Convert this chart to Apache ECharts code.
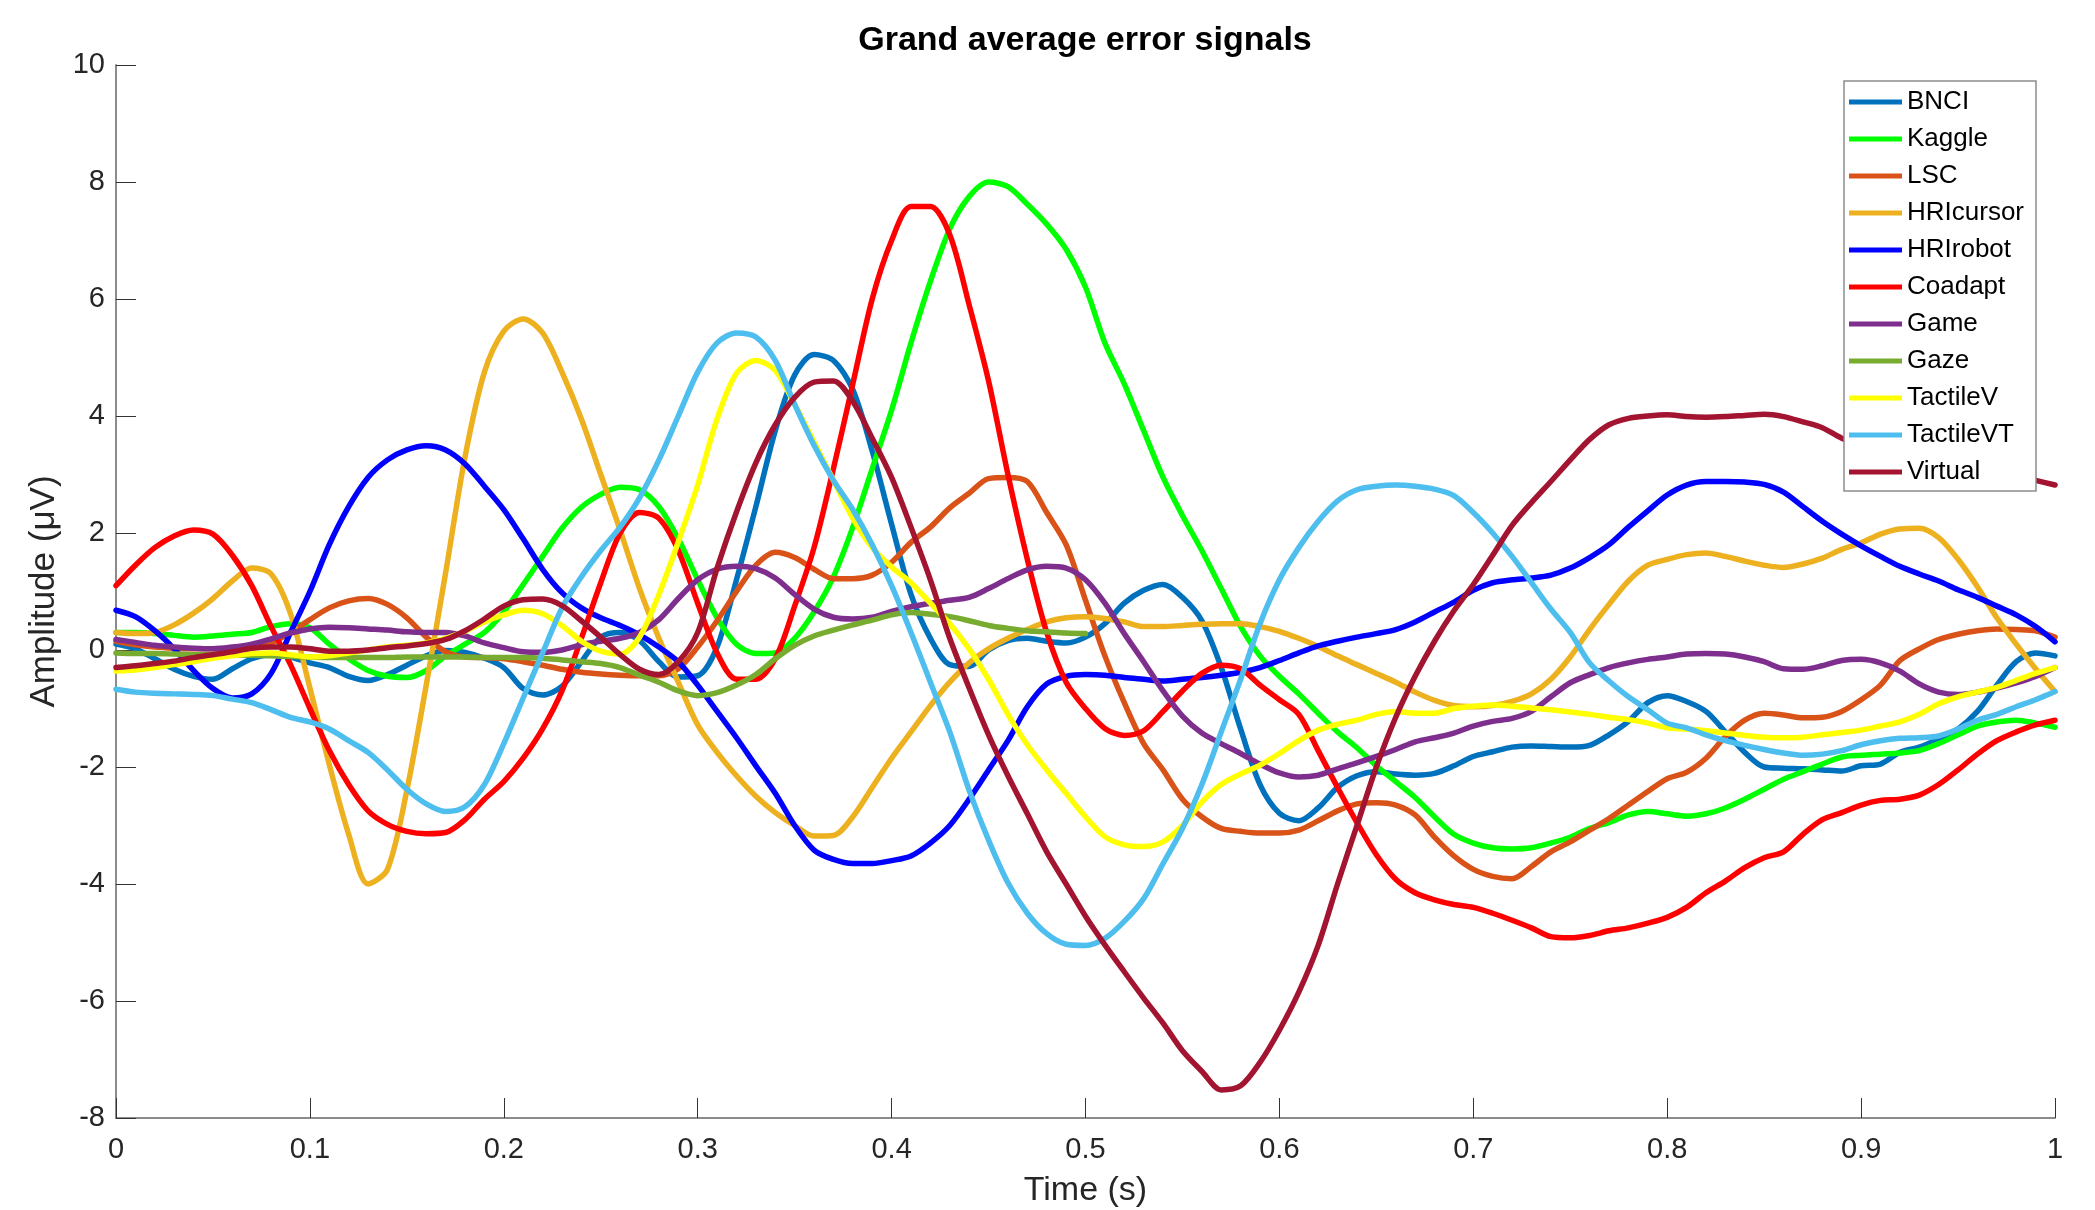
<!DOCTYPE html>
<html>
<head>
<meta charset="utf-8">
<title>Grand average error signals</title>
<script src="https://cdn.jsdelivr.net/npm/echarts@6.0.0/dist/echarts.min.js"></script>
<style>
  html, body { margin: 0; padding: 0; background: #fff; }
  #chart { width: 2095px; height: 1210px; }
</style>
</head>
<body>
<div id="chart"></div>
<script>
// sample times in seconds
const time = [
  0, 0.01, 0.02, 0.03, 0.04, 0.05, 0.06, 0.07, 0.08, 0.09,
  0.1, 0.11, 0.12, 0.13, 0.14, 0.15, 0.16, 0.17, 0.18, 0.19,
  0.2, 0.21, 0.22, 0.23, 0.24, 0.25, 0.26, 0.27, 0.28, 0.29,
  0.3, 0.31, 0.32, 0.33, 0.34, 0.35, 0.36, 0.37, 0.38, 0.39,
  0.4, 0.41, 0.42, 0.43, 0.44, 0.45, 0.46, 0.47, 0.48, 0.49,
  0.5, 0.51, 0.52, 0.53, 0.54, 0.55, 0.56, 0.57, 0.58, 0.59,
  0.6, 0.61, 0.62, 0.63, 0.64, 0.65, 0.66, 0.67, 0.68, 0.69,
  0.7, 0.71, 0.72, 0.73, 0.74, 0.75, 0.76, 0.77, 0.78, 0.79,
  0.8, 0.81, 0.82, 0.83, 0.84, 0.85, 0.86, 0.87, 0.88, 0.89,
  0.9, 0.91, 0.92, 0.93, 0.94, 0.95, 0.96, 0.97, 0.98, 0.99, 1
];

// amplitudes in µV
const bnci = [
  0.1, 0.02, -0.15, -0.33, -0.45, -0.5, -0.32, -0.15, -0.08, -0.12,
  -0.22, -0.3, -0.45, -0.52, -0.42, -0.26, -0.1, -0.01, -0.04, -0.14,
  -0.3, -0.66, -0.77, -0.62, -0.2, 0.22, 0.3, 0.16, -0.2, -0.46,
  -0.44, 0.05, 1.2, 2.45, 3.75, 4.7, 5.05, 4.95, 4.45, 3.4,
  2.15, 0.95, 0.2, -0.25, -0.28, 0.0, 0.16, 0.2, 0.15, 0.12,
  0.22, 0.45, 0.8, 1.02, 1.12, 0.9, 0.5, -0.3, -1.35, -2.3,
  -2.79, -2.92, -2.7, -2.35, -2.15, -2.08, -2.12, -2.14, -2.11, -1.98,
  -1.82, -1.74, -1.66, -1.64, -1.65, -1.66, -1.63, -1.45, -1.22, -0.9,
  -0.78, -0.88, -1.05, -1.4, -1.75, -2.0, -2.02, -2.03, -2.05, -2.07,
  -1.98, -1.95, -1.75, -1.66, -1.52, -1.35, -1.05, -0.6, -0.2, -0.05, -0.1
];
const kaggle = [
  0.3, 0.3, 0.28, 0.25, 0.22, 0.24, 0.27, 0.3, 0.4, 0.45,
  0.38, 0.1, -0.15, -0.35, -0.45, -0.47, -0.35, -0.1, 0.1, 0.3,
  0.65, 1.12, 1.6, 2.08, 2.44, 2.66, 2.78, 2.74, 2.45, 1.9,
  1.2, 0.55, 0.1, -0.06, -0.05, 0.2, 0.65, 1.25, 2.1, 3.1,
  4.1, 5.25, 6.3, 7.2, 7.75, 8.0, 7.92, 7.62, 7.28, 6.85,
  6.2, 5.25, 4.55, 3.75, 2.95, 2.3, 1.7, 1.05, 0.4, -0.1,
  -0.45, -0.75, -1.08, -1.4, -1.67, -1.98, -2.25, -2.52, -2.85, -3.15,
  -3.3, -3.38, -3.4, -3.38, -3.3, -3.2, -3.05, -2.95, -2.82, -2.76,
  -2.8, -2.84, -2.8, -2.7, -2.55, -2.38, -2.21, -2.08, -1.95, -1.83,
  -1.8, -1.78, -1.76, -1.72, -1.6, -1.45, -1.3, -1.23, -1.2, -1.25, -1.32
];
const lsc = [
  0.15, 0.09, 0.05, 0.03, 0.02, 0.02, 0.03, 0.05, 0.12, 0.3,
  0.52, 0.72, 0.84, 0.88, 0.78, 0.55, 0.22, -0.03, -0.12, -0.13,
  -0.15, -0.2, -0.26, -0.33, -0.38, -0.41, -0.43, -0.44, -0.44, -0.32,
  0.05, 0.5, 1.0, 1.45, 1.67, 1.58, 1.38, 1.22, 1.22, 1.28,
  1.5, 1.84, 2.1, 2.43, 2.68, 2.93, 2.95, 2.88, 2.35, 1.8,
  0.85, -0.1, -0.9, -1.6, -2.05, -2.55, -2.85, -3.05, -3.1, -3.13,
  -3.13, -3.08, -2.92, -2.75, -2.63, -2.61, -2.65, -2.82, -3.2, -3.52,
  -3.75, -3.87, -3.91, -3.7, -3.45, -3.28, -3.08, -2.88, -2.65, -2.42,
  -2.2, -2.09, -1.85, -1.48, -1.2, -1.08, -1.11, -1.16, -1.15, -1.05,
  -0.85, -0.6, -0.18, 0.02, 0.18, 0.27, 0.33, 0.36, 0.35, 0.33, 0.22
];
const hriCursor = [
  0.3, 0.28, 0.3, 0.43, 0.63, 0.88, 1.18, 1.4, 1.3, 0.62,
  -0.65, -1.96, -3.15, -4.0, -3.75, -2.4, -0.6, 1.32, 3.3, 4.75,
  5.45, 5.66, 5.42, 4.75, 3.95, 3.0, 2.05, 1.05, 0.2, -0.55,
  -1.28, -1.75, -2.15, -2.5, -2.78, -3.0, -3.18, -3.17, -2.85, -2.35,
  -1.85, -1.4, -0.95, -0.55, -0.22, 0.02, 0.2, 0.35, 0.48, 0.55,
  0.57, 0.54, 0.48, 0.4, 0.4, 0.42, 0.44, 0.45, 0.45, 0.4,
  0.32, 0.2, 0.06, -0.1, -0.25, -0.4, -0.55, -0.72, -0.86, -0.95,
  -0.97, -0.95, -0.88, -0.75, -0.5, -0.12, 0.35, 0.78, 1.18, 1.45,
  1.55, 1.63, 1.66, 1.6, 1.52, 1.45, 1.41, 1.47, 1.57, 1.72,
  1.83, 1.98, 2.07, 2.08, 1.92, 1.55, 1.08, 0.55, 0.1, -0.32, -0.71
];
const hriRobot = [
  0.68, 0.57, 0.33, 0.02, -0.35, -0.66, -0.82, -0.75, -0.4, 0.3,
  1.0, 1.8, 2.45, 2.95, 3.25, 3.42, 3.49, 3.42, 3.18, 2.8,
  2.4, 1.9, 1.38, 0.98, 0.72, 0.55, 0.42, 0.26, 0.05, -0.2,
  -0.6, -1.05, -1.5, -1.98, -2.45, -3.0, -3.42, -3.58, -3.65, -3.65,
  -3.6, -3.52, -3.3, -3.0, -2.55, -2.05, -1.55, -0.97, -0.58, -0.45,
  -0.42, -0.43, -0.47, -0.5, -0.53, -0.5, -0.47, -0.43, -0.38, -0.3,
  -0.18, -0.05, 0.07, 0.15, 0.22, 0.28, 0.35, 0.48, 0.65, 0.82,
  1.02, 1.15, 1.2, 1.23, 1.28, 1.4, 1.58, 1.8, 2.1, 2.38,
  2.65, 2.82, 2.88, 2.88, 2.87, 2.83, 2.7, 2.45, 2.2, 1.98,
  1.78, 1.6, 1.43, 1.3, 1.18, 1.03, 0.9, 0.75, 0.6, 0.4, 0.14
];
const coadapt = [
  1.1, 1.45, 1.75, 1.95, 2.05, 1.98, 1.62, 1.1, 0.4, -0.25,
  -1.0, -1.72, -2.3, -2.75, -2.98, -3.1, -3.14, -3.12, -2.9, -2.55,
  -2.25, -1.85, -1.35, -0.7, 0.2, 1.15, 2.0, 2.35, 2.25, 1.7,
  0.8, -0.05, -0.5, -0.5, -0.15, 0.75, 1.75, 3.1, 4.55, 6.0,
  7.0, 7.58, 7.58, 7.1, 5.9, 4.6, 3.0, 1.55, 0.3, -0.55,
  -1.0, -1.34, -1.46, -1.38, -1.05, -0.7, -0.4, -0.26, -0.32, -0.6,
  -0.85, -1.1, -1.72, -2.35, -2.95, -3.5, -3.92, -4.15, -4.27, -4.35,
  -4.4, -4.5, -4.62, -4.75, -4.9, -4.92, -4.88, -4.8, -4.75, -4.67,
  -4.57, -4.4, -4.15, -3.95, -3.72, -3.55, -3.45, -3.15, -2.9, -2.78,
  -2.65, -2.57, -2.55, -2.48, -2.3, -2.05, -1.78, -1.55, -1.4, -1.28, -1.2
];
const game = [
  0.18, 0.13, 0.08, 0.05, 0.03, 0.02, 0.05, 0.1, 0.19, 0.29,
  0.36, 0.39, 0.38, 0.36, 0.34, 0.31, 0.3, 0.3, 0.24, 0.12,
  0.04, -0.03, -0.04, 0.0, 0.09, 0.15, 0.2, 0.3, 0.52, 0.88,
  1.2, 1.38, 1.43, 1.39, 1.23, 0.95, 0.7, 0.56, 0.53, 0.56,
  0.66, 0.74, 0.8, 0.85, 0.9, 1.05, 1.22, 1.37, 1.43, 1.4,
  1.2, 0.8, 0.28, -0.2, -0.7, -1.13, -1.42, -1.6, -1.77, -1.95,
  -2.1, -2.17, -2.14, -2.03, -1.93, -1.82, -1.7, -1.57, -1.5, -1.42,
  -1.3, -1.22, -1.17, -1.05, -0.8, -0.56, -0.42, -0.3, -0.22, -0.16,
  -0.12, -0.07, -0.06, -0.07, -0.12, -0.2, -0.32, -0.33, -0.27, -0.18,
  -0.16, -0.22, -0.36, -0.58, -0.72, -0.76, -0.72, -0.65, -0.56, -0.45, -0.3
];
// Gaze stops at 0.5 s
const gaze = [
  -0.05, -0.06, -0.06, -0.07, -0.08, -0.08, -0.09, -0.09, -0.1, -0.11,
  -0.12, -0.13, -0.13, -0.13, -0.13, -0.12, -0.12, -0.12, -0.12, -0.13,
  -0.13, -0.13, -0.14, -0.17, -0.2, -0.23, -0.3, -0.43, -0.55, -0.7,
  -0.78, -0.73, -0.6, -0.42, -0.15, 0.08, 0.24, 0.34, 0.43, 0.51,
  0.6, 0.64, 0.61, 0.57, 0.5, 0.42, 0.37, 0.33, 0.31, 0.29, 0.28
];
const tactileV = [
  -0.36, -0.34, -0.3, -0.25, -0.2, -0.14, -0.1, -0.06, -0.05, -0.08,
  -0.12, -0.1, -0.05, 0.0, 0.05, 0.08, 0.12, 0.2, 0.32, 0.48,
  0.6, 0.68, 0.62, 0.42, 0.15, -0.02, -0.07, 0.22, 0.95, 1.85,
  2.82, 3.95, 4.73, 4.95, 4.78, 4.2, 3.55, 2.9, 2.25, 1.75,
  1.42, 1.15, 0.8, 0.45, 0.02, -0.5, -1.1, -1.62, -2.05, -2.45,
  -2.85, -3.19, -3.33, -3.36, -3.28, -3.0, -2.6, -2.3, -2.12, -1.97,
  -1.77, -1.55, -1.37, -1.27, -1.2, -1.1, -1.05, -1.08, -1.08, -1.0,
  -0.96, -0.94, -0.96, -0.99, -1.02, -1.06, -1.1, -1.15, -1.19, -1.25,
  -1.33, -1.35, -1.38, -1.42, -1.46, -1.49, -1.5, -1.49, -1.45, -1.41,
  -1.37, -1.3, -1.23, -1.1, -0.92, -0.8, -0.72, -0.64, -0.52, -0.4, -0.3
];
const tactileVT = [
  -0.67, -0.72, -0.74, -0.75, -0.76, -0.78, -0.84, -0.9, -1.02, -1.15,
  -1.23, -1.35, -1.55, -1.75, -2.05, -2.38, -2.63, -2.76, -2.68, -2.3,
  -1.6, -0.82, -0.05, 0.72, 1.25, 1.7, 2.1, 2.6, 3.25, 4.0,
  4.75, 5.25, 5.42, 5.35, 4.95, 4.2, 3.5, 2.9, 2.4, 1.8,
  1.1, 0.3, -0.55, -1.4, -2.4, -3.25, -3.98, -4.5, -4.85, -5.03,
  -5.05, -4.93, -4.64, -4.25, -3.65, -3.05, -2.3, -1.4, -0.5, 0.45,
  1.2, 1.75, 2.2, 2.55, 2.74, 2.8, 2.82, 2.8, 2.75, 2.64,
  2.35, 2.0, 1.6, 1.15, 0.7, 0.3, -0.22, -0.53, -0.8, -1.02,
  -1.25, -1.33, -1.45, -1.55, -1.63, -1.7, -1.76, -1.8, -1.78, -1.72,
  -1.62, -1.55, -1.51, -1.5, -1.47, -1.35, -1.2, -1.1, -0.97, -0.85, -0.71
];
const virtual = [
  -0.3, -0.27, -0.23, -0.19, -0.13, -0.08, -0.03, 0.03, 0.05, 0.05,
  0.02, -0.02, -0.02, 0.0, 0.04, 0.07, 0.11, 0.18, 0.33, 0.53,
  0.75, 0.86, 0.87, 0.76, 0.5, 0.22, -0.08, -0.33, -0.42, -0.2,
  0.3, 1.4, 2.36, 3.2, 3.85, 4.32, 4.58, 4.6, 4.25, 3.62,
  2.95, 2.1, 1.2, 0.2, -0.65, -1.45, -2.15, -2.8, -3.45, -4.0,
  -4.55, -5.04, -5.5, -5.95, -6.38, -6.85, -7.2, -7.52, -7.45, -7.05,
  -6.5, -5.85, -5.05, -4.0, -3.0, -2.0, -1.15, -0.45, 0.15, 0.67,
  1.12, 1.62, 2.13, 2.52, 2.88, 3.25, 3.6, 3.85, 3.96, 4.0,
  4.02, 3.99, 3.98, 3.99, 4.01, 4.03, 3.99, 3.9, 3.8, 3.62,
  3.5, 3.42, 3.38, 3.33, 3.25, 3.18, 3.1, 3.05, 2.98, 2.9, 2.82
];

const names = ['BNCI', 'Kaggle', 'LSC', 'HRIcursor', 'HRIrobot', 'Coadapt',
  'Game', 'Gaze', 'TactileV', 'TactileVT', 'Virtual'];
const values = [bnci, kaggle, lsc, hriCursor, hriRobot, coadapt,
  game, gaze, tactileV, tactileVT, virtual];
const colors = ['#0072BD', '#00FF00', '#D95319', '#EDB120', '#0000FF', '#FF0000',
  '#7E2F8E', '#77AC30', '#FFFF00', '#4DBEEE', '#A2142F'];

const font = '"Liberation Sans", Arial, Helvetica, sans-serif';

const chart = echarts.init(document.getElementById('chart'));
chart.setOption({
  animation: false,
  backgroundColor: '#fff',
  grid: { left: 116, right: 40, top: 65, bottom: 92, containLabel: false, outerBoundsMode: 'none' },
  graphic: [{
    type: 'text',
    x: 1085, y: 41,
    style: {
      text: 'Grand average error signals',
      fill: '#000',
      font: 'bold 34px ' + font,
      align: 'center', verticalAlign: 'middle',
      textAlign: 'center', textVerticalAlign: 'middle'
    }
  }],
  legend: {
    orient: 'vertical',
    left: 1844, top: 81,
    padding: [7, 12, 5, 5],
    icon: 'rect',
    itemWidth: 53, itemHeight: 5, itemGap: 9,
    backgroundColor: '#fff',
    borderColor: '#8c8c8c', borderWidth: 1.5,
    textStyle: { fontSize: 26, lineHeight: 28, color: '#000', fontFamily: font },
    data: names
  },
  xAxis: {
    type: 'value',
    min: 0, max: 1, interval: 0.1,
    name: 'Time (s)',
    nameLocation: 'middle', nameGap: 56,
    nameTextStyle: { fontSize: 34, color: '#262626', fontFamily: font },
    axisLine: { show: true, onZero: false, lineStyle: { color: '#8c8c8c', width: 2 } },
    axisTick: { show: true, inside: true, length: 20, lineStyle: { color: '#333', width: 1 } },
    axisLabel: { fontSize: 29, color: '#262626', fontFamily: font, margin: 17 },
    splitLine: { show: false }
  },
  yAxis: {
    type: 'value',
    min: -8, max: 10, interval: 2,
    name: 'Amplitude (μV)',
    nameLocation: 'middle', nameGap: 51,
    nameTextStyle: { fontSize: 35, color: '#262626', fontFamily: font },
    axisLine: { show: true, lineStyle: { color: '#8c8c8c', width: 2 } },
    axisTick: { show: true, inside: true, length: 20, lineStyle: { color: '#333', width: 1 } },
    axisLabel: { fontSize: 29, color: '#262626', fontFamily: font, margin: 11 },
    splitLine: { show: false }
  },
  series: names.map((name, i) => ({
    name: name,
    type: 'line',
    symbol: 'none',
    showSymbol: false,
    smooth: 0.3,
    data: values[i].map((v, j) => [time[j], v]),
    lineStyle: { width: 5.5, color: colors[i], join: 'round', cap: 'round' },
    itemStyle: { color: colors[i] },
    emphasis: { disabled: true }
  }))
});
</script>
</body>
</html>
